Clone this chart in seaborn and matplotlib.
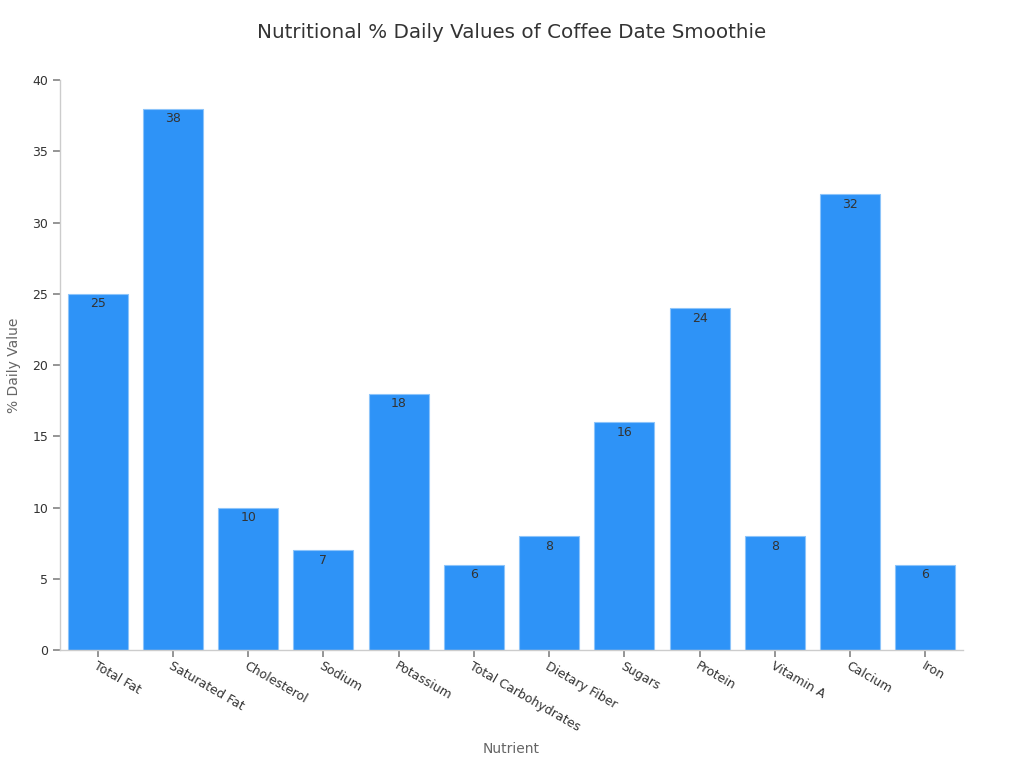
import matplotlib
matplotlib.use("Agg")
import matplotlib.pyplot as plt
import seaborn as sns
import pandas as pd

nutrients = ["Total Fat", "Saturated Fat", "Cholesterol", "Sodium", "Potassium",
             "Total Carbohydrates", "Dietary Fiber", "Sugars", "Protein",
             "Vitamin A", "Calcium", "Iron"]
values = [25, 38, 10, 7, 18, 6, 8, 16, 24, 8, 32, 6]

sns.set_theme(style="white")
plt.rcParams['font.family'] = ['DejaVu Sans']

df = pd.DataFrame({"Nutrient": nutrients, "Value": values})

fig = plt.figure(figsize=(10.24, 7.68), dpi=100)
ax = fig.add_axes([0.0586, 0.1536, 0.8818, 0.7422])
sns.barplot(data=df, x="Nutrient", y="Value", color="#2E93F7", saturation=1,
            width=0.8, edgecolor="#8cc4fa", linewidth=0.8, ax=ax)
ax.set_xlim(-0.5, len(nutrients) - 0.5)
ax.set_ylim(0, 40)
ax.set_yticks(range(0, 41, 5))

for cont in ax.containers:
    ax.bar_label(cont, labels=[str(v) for v in values], label_type="edge",
                 padding=-12, fontsize=9, color="#333333")

for s in ["top", "right"]:
    ax.spines[s].set_visible(False)
for s in ["left", "bottom"]:
    ax.spines[s].set_color("#cccccc")
    ax.spines[s].set_linewidth(1)

ax.tick_params(axis="both", which="both", length=5, color="#888888",
               labelsize=9, labelcolor="#333333", left=True, bottom=True)
ax.tick_params(axis="x", pad=2)
plt.setp(ax.get_xticklabels(), rotation=-30, ha="left", rotation_mode="anchor")

ax.set_xlabel("Nutrient", fontsize=10, color="#666666", labelpad=6)
ax.set_ylabel("% Daily Value", fontsize=10, color="#666666", labelpad=8)
fig.suptitle("Nutritional % Daily Values of Coffee Date Smoothie", fontsize=14.3,
             color="#333333", y=0.97)

fig.savefig("out.png", dpi=100)
